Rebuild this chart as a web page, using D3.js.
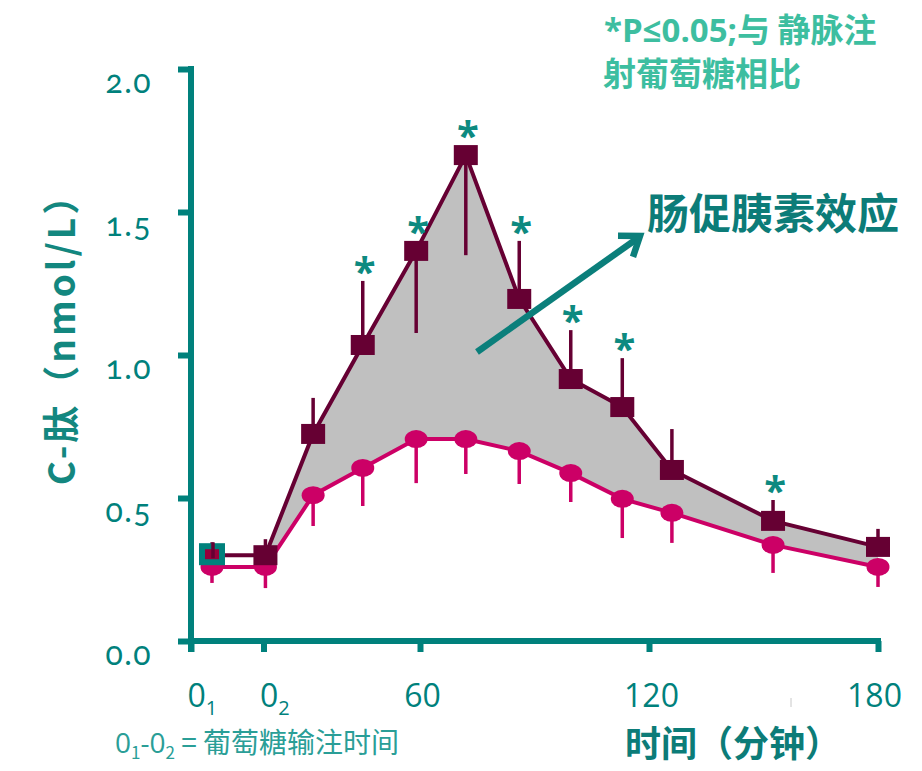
<!DOCTYPE html>
<html lang="zh">
<head>
<meta charset="utf-8">
<script src="https://cdn.jsdelivr.net/npm/d3@7"></script>
<style>
  body { margin: 0; background: #fff; }
  svg { display: block; }
</style>
</head>
<body>
<script>
// time points (min) and C-peptide (nmol/L)
const times = [5.5, 19.5, 32, 45, 59, 72, 86, 99.5, 113, 126, 152.5, 180];
const oralMean = [0.30, 0.30, 0.724, 1.035, 1.364, 1.699, 1.196, 0.916, 0.818, 0.598, 0.42, 0.329];
// signed: >0 bar drawn up, <0 bar drawn down
const oralErr = [0.045, 0.056, 0.126, 0.224, -0.287, -0.35, 0.203, 0.171, 0.171, 0.143, 0.073, 0.063];
const ivMean = [0.259, 0.259, 0.51, 0.605, 0.706, 0.706, 0.664, 0.587, 0.497, 0.448, 0.336, 0.259];
const ivErr = [0.056, 0.074, 0.108, 0.133, 0.154, 0.122, 0.115, 0.101, 0.137, 0.105, 0.098, 0.07];
const significant = [0, 0, 0, 1, 1, 1, 1, 1, 1, 0, 1, 0];

const xTicks = [0, 19, 60, 120, 180];
const xTickLabels = [["0", "1"], ["0", "2"], ["60"], ["120"], ["180"]];
const yTicks = [0, 0.5, 1, 1.5, 2];

const teal = '#00817c';
const maroon = '#660033';
const magenta = '#cc0066';

const width = 922, height = 771;

const svg = d3.select('body')
  .append('svg')
  .attr('width', width)
  .attr('height', height);

const x = d3.scaleLinear().domain([0, 180]).range([191, 878]);
const y = d3.scaleLinear().domain([0, 2]).range([641, 69]);

const pts = times.map((t, i) => ({
  t, i,
  oral: oralMean[i], oErr: oralErr[i],
  iv: ivMean[i], iErr: ivErr[i],
  sig: significant[i]
}));

// shaded incretin effect area
const area = d3.area()
  .x(d => x(d.t))
  .y0(d => y(d.iv))
  .y1(d => y(d.oral));

svg.append('path')
  .datum(pts.slice(1))
  .attr('d', area)
  .attr('fill', '#c0c0c0');

// axes
const yAxis = svg.append('g')
  .attr('transform', `translate(${x(0)},0)`)
  .call(d3.axisLeft(y).tickValues(yTicks).tickSize(13).tickFormat(d3.format('.1f')));
yAxis.select('.domain').remove();
yAxis.selectAll('line').attr('stroke', teal).attr('stroke-width', 6);
yAxis.selectAll('text')
  .attr('x', -39)
  .attr('dy', '0.72em')
  .attr('fill', teal)
  .attr('font-family', 'Lato, "Open Sans", sans-serif')
  .attr('font-size', 32)
  .attr('letter-spacing', 1.5)
  .style('font-variant-numeric', 'oldstyle-nums');

svg.append('line')
  .attr('x1', x(0)).attr('x2', x(0))
  .attr('y1', y(2) - 3).attr('y2', y(0) + 11)
  .attr('stroke', teal).attr('stroke-width', 6);

const xAxis = svg.append('g')
  .attr('transform', `translate(0,${y(0)})`)
  .call(d3.axisBottom(x).tickValues(xTicks).tickSize(11).tickFormat(''));
xAxis.select('.domain').remove();
xAxis.selectAll('line').attr('stroke', teal).attr('stroke-width', 6);

svg.append('line')
  .attr('x1', x(0) - 3).attr('x2', x(180) + 3)
  .attr('y1', y(0)).attr('y2', y(0))
  .attr('stroke', teal).attr('stroke-width', 6);

xAxis.selectAll('.tick text').each(function (d, i) {
  const lab = xTickLabels[i];
  const txt = d3.select(this)
    .attr('y', 66).attr('dy', 0)
    .attr('fill', teal)
    .attr('font-family', '"Open Sans", sans-serif')
    .attr('font-size', 32);
  if (lab.length > 1) {
    txt.attr('text-anchor', 'start').attr('x', -4);
    txt.append('tspan').text(lab[0]);
    txt.append('tspan').attr('font-size', 20).attr('dy', 8).text(lab[1]);
  } else {
    txt.attr('x', i === 4 ? -4 : 2).text(lab[0]);
  }
});

// lines
const ivLine = d3.line().x(d => x(d.t)).y(d => y(d.iv));
const oralLine = d3.line().x(d => x(d.t)).y(d => y(d.oral));

svg.append('path').datum(pts).attr('d', ivLine)
  .attr('fill', 'none').attr('stroke', magenta).attr('stroke-width', 4);
svg.append('path').datum(pts).attr('d', oralLine)
  .attr('fill', 'none').attr('stroke', maroon).attr('stroke-width', 4);

// iv glucose: error bars + ellipses
svg.append('g').selectAll('line').data(pts).join('line')
  .attr('x1', d => x(d.t)).attr('x2', d => x(d.t))
  .attr('y1', d => y(d.iv)).attr('y2', d => y(d.iv - d.iErr))
  .attr('stroke', magenta).attr('stroke-width', 3.5);

svg.append('g').selectAll('ellipse').data(pts).join('ellipse')
  .attr('cx', d => x(d.t)).attr('cy', d => y(d.iv))
  .attr('rx', 11.5).attr('ry', 9)
  .attr('fill', magenta);

// oral glucose: error bars + squares
svg.append('g').selectAll('line').data(pts).join('line')
  .attr('x1', d => x(d.t)).attr('x2', d => x(d.t))
  .attr('y1', d => y(d.oral)).attr('y2', d => y(d.oral + d.oErr))
  .attr('stroke', maroon).attr('stroke-width', 3.5);

svg.append('g').selectAll('rect').data(pts.slice(1)).join('rect')
  .attr('x', d => x(d.t) - 12).attr('y', d => y(d.oral) - 10)
  .attr('width', 24).attr('height', 20)
  .attr('fill', maroon);

// first (baseline) point highlighted
const p0 = pts[0];
svg.append('rect')
  .attr('x', x(p0.t) - 13).attr('y', y(p0.oral) - 12)
  .attr('width', 26).attr('height', 22)
  .attr('fill', teal);
svg.append('rect')
  .attr('x', x(p0.t) - 7).attr('y', y(p0.oral) - 6)
  .attr('width', 14).attr('height', 10)
  .attr('fill', '#99003a');
svg.append('line')
  .attr('x1', x(p0.t) + 1).attr('x2', x(p0.t) + 1)
  .attr('y1', y(p0.oral) + 3).attr('y2', y(p0.oral + p0.oErr))
  .attr('stroke', maroon).attr('stroke-width', 3.5);

// significance asterisks
svg.append('g').selectAll('text').data(pts.filter(d => d.sig)).join('text')
  .attr('x', d => x(d.t) + 2)
  .attr('y', d => {
    const top = d.oErr > 0 ? y(d.oral + d.oErr) : y(d.oral) - 10;
    return top - 17 + 22;
  })
  .attr('text-anchor', 'middle')
  .attr('font-family', '"Open Sans", sans-serif')
  .attr('font-weight', 700)
  .attr('font-size', 40)
  .attr('fill', '#0d8a80')
  .text('*');

// arrow
const a0 = [477, 352], a1 = [640, 236];
const ang = Math.atan2(a1[1] - a0[1], a1[0] - a0[0]);
const arm = 22;
const head = [ang + Math.PI * 0.8, ang - Math.PI * 0.8].map(a => [a1[0] + arm * Math.cos(a), a1[1] + arm * Math.sin(a)]);
svg.append('line')
  .attr('x1', a0[0]).attr('y1', a0[1]).attr('x2', a1[0] - 2).attr('y2', a1[1] + 2)
  .attr('stroke', '#0b7f7b').attr('stroke-width', 6.5);
svg.append('path')
  .attr('d', `M${head[0]}L${a1}L${head[1]}`)
  .attr('fill', 'none').attr('stroke', '#0b7f7b').attr('stroke-width', 6.5)
  .attr('stroke-linejoin', 'miter');

// texts
const cjk = '"Noto Sans CJK SC", "Open Sans", sans-serif';

svg.append('text')
  .attr('transform', 'translate(75,330) rotate(-90)')
  .attr('text-anchor', 'middle')
  .attr('font-family', cjk)
  .attr('font-weight', 700)
  .attr('font-size', 37)
  .attr('letter-spacing', 3)
  .attr('fill', '#13877f')
  .text('C-肽（nmol/L）');

const note = svg.append('text')
  .attr('font-family', cjk)
  .attr('font-weight', 700)
  .attr('font-size', 33)
  .attr('fill', '#3dbea0');
const l1 = note.append('tspan').attr('x', 604).attr('y', 42);
l1.append('tspan')
  .attr('font-family', '"Open Sans", sans-serif')
  .attr('font-size', 33)
  .text('*P≤0.05;');
l1.append('tspan').text('与 静脉注');
note.append('tspan').attr('x', 603).attr('y', 86).text('射葡萄糖相比');

svg.append('text')
  .attr('x', 647).attr('y', 229)
  .attr('font-family', cjk)
  .attr('font-weight', 700)
  .attr('font-size', 42)
  .attr('fill', '#0c7c78')
  .text('肠促胰素效应');

svg.append('text')
  .attr('x', 625).attr('y', 757)
  .attr('font-family', cjk)
  .attr('font-weight', 700)
  .attr('font-size', 36)
  .attr('fill', '#0c7c78')
  .text('时间（分钟）');

const foot = svg.append('text')
  .attr('x', 115).attr('y', 753)
  .attr('font-family', cjk)
  .attr('font-size', 28)
  .attr('fill', '#2a9e97');
foot.append('tspan').attr('font-family', '"Open Sans", sans-serif').text('0');
foot.append('tspan').attr('font-size', 17).attr('dy', 6).text('1');
foot.append('tspan').attr('font-family', '"Open Sans", sans-serif').attr('dy', -6).text('-0');
foot.append('tspan').attr('font-size', 17).attr('dy', 6).text('2');
foot.append('tspan').attr('dy', -6).text(' = 葡萄糖输注时间');

// small stray mark under the axis
svg.append('line')
  .attr('x1', 791).attr('x2', 791).attr('y1', 698).attr('y2', 707)
  .attr('stroke', '#c8c8c8').attr('stroke-width', 1);
</script>
</body>
</html>
